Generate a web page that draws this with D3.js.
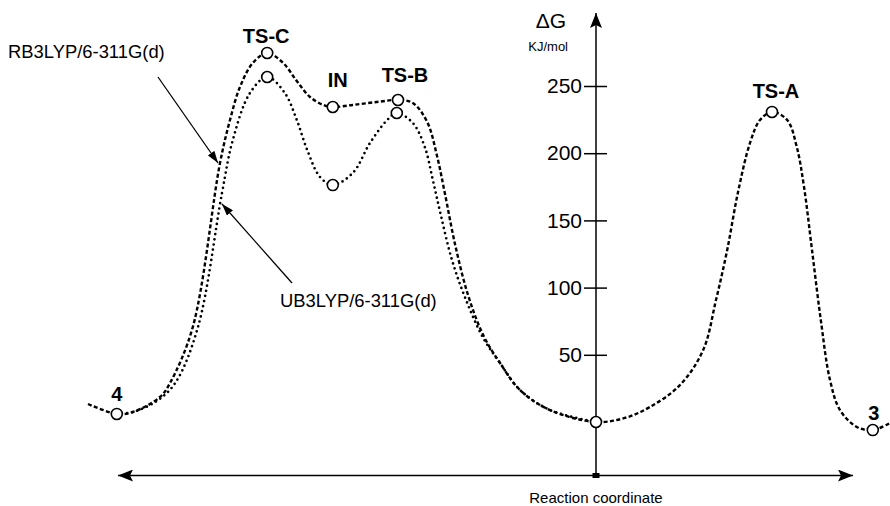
<!DOCTYPE html>
<html lang="en">
<head>
<meta charset="UTF-8">
<script src="https://d3js.org/d3.v7.min.js"></script>
<style>
    body { margin: 0; background: #fff; }
    svg { font-family: "Liberation Sans", Arial, sans-serif; }
    .rb { fill: none; stroke: #000; stroke-width: 2.4; stroke-dasharray: 4 2.4; }
    .ub { fill: none; stroke: #000; stroke-width: 2.7; stroke-dasharray: 0 5.2; stroke-linecap: round; }
    .state { fill: #fff; stroke: #000; stroke-width: 1.6; }
    .name { font-weight: bold; font-size: 20px; text-anchor: middle; }
    .note { font-size: 18.4px; }
</style>
</head>
<body>
<script>
const width = 890, height = 506;

// RB3LYP profile: reaction coordinate (arb. units) and ΔG (kJ/mol)
const rbRC = [0, 3.6, 5.6, 9, 10.25, 13.1, 16.5, 17.75, 19, 20.6, 22.4, 24.4, 26.1, 27.75, 29.4, 30.6,
    33.1, 36.1, 38.75, 40.6, 42.4, 43.6, 44.6, 45.9, 47.5, 49.4, 51.5, 54, 57.75, 63.5, 67.1, 70.25,
    74, 76.9, 78.5, 79.9, 81.25, 82.75, 84, 85.5, 87.4, 88.6, 89.5, 90.5, 91.6, 92.75, 94, 96.1, 98.1, 100.25];
const rbG = [13.4, 6, 7.4, 18.6, 29, 70.7, 192.7, 224.7, 249.3, 267.1, 274.6, 267.1, 253.7, 241.8, 235.9, 234.4,
    235.9, 238.1, 239.6, 237.4, 223.2, 198.7, 170.4, 131.7, 94.5, 64.7, 43.9, 23.8, 8.9, 0, 3, 11.2,
    27.5, 53.6, 90.8, 128, 171, 207.6, 224.7, 230.7, 224.7, 204.6, 175, 128, 75.9, 31.25, 8.9, -3.7, -6, -0.7];

// UB3LYP profile
const ubRC = [3.6, 5.6, 8.6, 10.9, 13.75, 16.75, 18.1, 20.25, 22.4, 24.6, 26.1, 27.4, 29, 30.6, 33.1,
    35.25, 37.4, 38.6, 40.6, 42.1, 43.1, 44.1, 45.5, 47.25, 49.4, 51.5, 54, 57.75, 63.5];
const ubG = [6, 7.4, 15.6, 29, 70.7, 170.4, 209.8, 244.8, 256.7, 244.8, 224.7, 202.4, 182.3, 176.3, 185.3,
    207.6, 224.7, 229.9, 222.5, 204.6, 180.1, 154, 120.5, 90.8, 62.5, 43.9, 23.8, 8.9, 0];

// stationary points
const stateNames = ["4", "TS-C", "IN", "TS-B", "", "TS-A", "3"];
const stateRC = [3.6, 22.4, 30.6, 38.75, 63.5, 85.5, 98.1];
const stateG = [6, 274.6, 234.4, 239.6, 0, 230.7, -6];
const ubStateRC = [22.4, 30.6, 38.6];
const ubStateG = [256.7, 176.3, 229.9];

const yTicks = [50, 100, 150, 200, 250];

// label nudges (px) for the state names
const labelDx = [0, -1, 5, 7, 0, 4, 1];
const labelDy = [-13, -10, -20, -18, 0, -14, -10];

const x = d3.scaleLinear().domain([0, 100]).range([88, 888]);
const y = d3.scaleLinear().domain([0, 250]).range([422, 86]);

const svg = d3.select('body').append('svg')
    .attr('width', width)
    .attr('height', height);

svg.append('rect').attr('width', width).attr('height', height).attr('fill', '#fff');

const defs = svg.append('defs');
defs.append('marker')
    .attr('id', 'head')
    .attr('viewBox', '0 0 12 8')
    .attr('refX', 12).attr('refY', 4)
    .attr('markerWidth', 12).attr('markerHeight', 8)
    .attr('markerUnits', 'userSpaceOnUse')
    .attr('orient', 'auto-start-reverse')
    .append('path').attr('d', 'M0,0L12,4L0,8Z').attr('fill', '#000');
defs.append('marker')
    .attr('id', 'bighead')
    .attr('viewBox', '0 0 15 12')
    .attr('refX', 15).attr('refY', 6)
    .attr('markerWidth', 15).attr('markerHeight', 12)
    .attr('markerUnits', 'userSpaceOnUse')
    .attr('orient', 'auto-start-reverse')
    .append('path').attr('d', 'M0,0L15,6L0,12L3,6Z').attr('fill', '#000');

// axes
const axisX = x(63.5);
const baseY = 475.5;

svg.append('line')
    .attr('x1', 118).attr('x2', 853)
    .attr('y1', baseY).attr('y2', baseY)
    .attr('stroke', '#000').attr('stroke-width', 1.5)
    .attr('marker-start', 'url(#bighead)')
    .attr('marker-end', 'url(#bighead)');

svg.append('line')
    .attr('x1', axisX).attr('x2', axisX)
    .attr('y1', baseY).attr('y2', 13)
    .attr('stroke', '#000').attr('stroke-width', 1.5)
    .attr('marker-end', 'url(#bighead)');

svg.append('rect')
    .attr('x', axisX - 3.5).attr('y', baseY - 2.5)
    .attr('width', 7).attr('height', 5)
    .attr('fill', '#000');

const yAxis = svg.append('g')
    .attr('transform', `translate(${axisX},0)`)
    .call(d3.axisLeft(y).tickValues(yTicks).tickSize(12).tickPadding(2));
yAxis.select('.domain').remove();
yAxis.selectAll('.tick line').attr('x1', 11).attr('stroke-width', 1.5);
yAxis.selectAll('.tick text')
    .attr('font-size', 21)
    .attr('font-family', '"Liberation Sans", Arial, sans-serif');

svg.append('text')
    .attr('x', axisX - 30).attr('y', 28)
    .attr('text-anchor', 'end')
    .attr('font-size', 21)
    .text('ΔG');
svg.append('text')
    .attr('x', axisX - 28).attr('y', 51)
    .attr('text-anchor', 'end')
    .attr('font-size', 13)
    .text('KJ/mol');

svg.append('text')
    .attr('x', axisX).attr('y', 503)
    .attr('text-anchor', 'middle')
    .attr('font-size', 15)
    .text('Reaction coordinate');

// profiles
const line = d3.line()
    .x(d => x(d[0]))
    .y(d => y(d[1]))
    .curve(d3.curveCatmullRom.alpha(0.5));

svg.append('path')
    .datum(d3.zip(ubRC, ubG))
    .attr('class', 'ub')
    .attr('d', line);

svg.append('path')
    .datum(d3.zip(rbRC, rbG))
    .attr('class', 'rb')
    .attr('d', line);

// stationary points
svg.selectAll('.state-ub')
    .data(d3.zip(ubStateRC, ubStateG))
    .enter().append('circle')
    .attr('class', 'state')
    .attr('cx', d => x(d[0]))
    .attr('cy', d => y(d[1]))
    .attr('r', 5.5);

svg.selectAll('.state-rb')
    .data(d3.zip(stateRC, stateG))
    .enter().append('circle')
    .attr('class', 'state')
    .attr('cx', d => x(d[0]))
    .attr('cy', d => y(d[1]))
    .attr('r', 5.5);

svg.selectAll('.name')
    .data(stateNames)
    .enter().append('text')
    .attr('class', 'name')
    .attr('x', (d, i) => x(stateRC[i]) + labelDx[i])
    .attr('y', (d, i) => y(stateG[i]) + labelDy[i])
    .text(d => d);

// method notes with leader arrows
svg.append('text')
    .attr('class', 'note')
    .attr('x', 8).attr('y', 58)
    .text('RB3LYP/6-311G(d)');
svg.append('line')
    .attr('x1', 158).attr('y1', 77)
    .attr('x2', 218).attr('y2', 163)
    .attr('stroke', '#000').attr('stroke-width', 1.3)
    .attr('marker-end', 'url(#head)');

svg.append('text')
    .attr('class', 'note')
    .attr('x', 280).attr('y', 307)
    .text('UB3LYP/6-311G(d)');
svg.append('line')
    .attr('x1', 292).attr('y1', 283)
    .attr('x2', 222).attr('y2', 204)
    .attr('stroke', '#000').attr('stroke-width', 1.3)
    .attr('marker-end', 'url(#head)');
</script>
</body>
</html>
